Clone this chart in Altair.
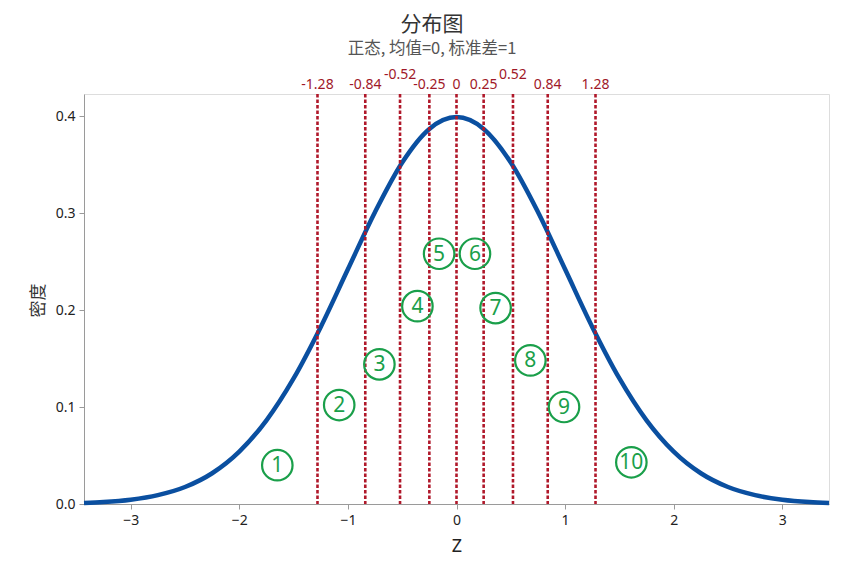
import altair as alt
import pandas as pd

# Titles
title_text = ["分布图"]
subtitle_text = ["正态, 均值=0, 标准差=1"]

# Curve samples (z, density)
z_curve = [-3.43, -3.25, -3.0, -2.75, -2.5, -2.25, -2.0, -1.75, -1.5, -1.25, -1.0, -0.75, -0.5, -0.25, 0.0,
           0.25, 0.5, 0.75, 1.0, 1.25, 1.5, 1.75, 2.0, 2.25, 2.5, 2.75, 3.0, 3.25, 3.43]
density = [0.0011, 0.0020, 0.0044, 0.0091, 0.0175, 0.0317, 0.0540, 0.0863, 0.1295, 0.1826, 0.2420, 0.3011, 0.3521, 0.3867, 0.3989,
           0.3867, 0.3521, 0.3011, 0.2420, 0.1826, 0.1295, 0.0863, 0.0540, 0.0317, 0.0175, 0.0091, 0.0044, 0.0020, 0.0011]

# Decile cut points
cuts = [-1.28, -0.84, -0.52, -0.25, 0.0, 0.25, 0.52, 0.84, 1.28]
cut_labels = ["-1.28", "-0.84", "-0.52", "-0.25", "0", "0.25", "0.52", "0.84", "1.28"]
cut_raised = [False, False, True, False, False, False, True, False, False]

# Circled decile numbers
num_labels = ["1", "2", "3", "4", "5", "6", "7", "8", "9", "10"]
num_z = [-1.65, -1.08, -0.71, -0.36, -0.16, 0.17, 0.36, 0.68, 0.99, 1.61]
num_y = [0.040, 0.102, 0.144, 0.204, 0.258, 0.258, 0.202, 0.148, 0.100, 0.043]

curve_df = pd.DataFrame({"z": z_curve, "d": density})
cut_df = pd.DataFrame({"z": cuts, "label": cut_labels, "raised": cut_raised})
num_df = pd.DataFrame({"z": num_z, "d": num_y, "label": num_labels})
title_df = pd.DataFrame({"t": title_text})
subtitle_df = pd.DataFrame({"t": subtitle_text})

W, H = 745, 410
LATIN = "Noto Sans"
CJK = "Noto Sans CJK SC"

xscale = alt.Scale(domain=[-3.43, 3.43], nice=False, zero=False)
yscale = alt.Scale(domain=[0, 0.4227], nice=False, zero=True)

xaxis = alt.Axis(values=[-3, -2, -1, 0, 1, 2, 3], format="d", title="Z", grid=False,
                 domainColor="#9a9a9a", tickColor="#9a9a9a", tickSize=5,
                 labelFont=LATIN, labelFontSize=14, labelColor="#222222", labelPadding=4,
                 titleFont=LATIN, titleFontSize=18, titleFontWeight="normal", titleColor="#222222",
                 titleY=42, titleBaseline="middle")
yaxis = alt.Axis(values=[0, 0.1, 0.2, 0.3, 0.4], format=".1f", title="密度", grid=False,
                 domainColor="#9a9a9a", tickColor="#9a9a9a", tickSize=5,
                 labelFont=LATIN, labelFontSize=14, labelColor="#222222", labelPadding=4,
                 titleFont=CJK, titleFontSize=17, titleFontWeight="normal", titleColor="#333333",
                 titleX=-46, titleY=206, titleAlign="center", titleBaseline="middle", titleAngle=-90)

curve = alt.Chart(curve_df).mark_line(color="#0a4fa0", strokeWidth=4.5, interpolate="monotone").encode(
    x=alt.X("z:Q", scale=xscale, axis=xaxis),
    y=alt.Y("d:Q", scale=yscale, axis=yaxis),
)

rules = alt.Chart(cut_df).mark_rule(color="#b0182a", strokeWidth=2.6, strokeDash=[3.5, 2]).encode(
    x=alt.X("z:Q", scale=xscale)
)

top_labels = alt.Chart(cut_df).transform_filter("!datum.raised").mark_text(
    color="#a01828", fontSize=14, font=LATIN, baseline="middle", align="center", clip=False
).encode(x=alt.X("z:Q", scale=xscale), y=alt.value(-9), text="label:N")

raised_labels = alt.Chart(cut_df).transform_filter("datum.raised").mark_text(
    color="#a01828", fontSize=14, font=LATIN, baseline="middle", align="center", clip=False
).encode(x=alt.X("z:Q", scale=xscale), y=alt.value(-19), text="label:N")

circles = alt.Chart(num_df).mark_point(shape="circle", size=930, filled=False, color="#1a9f4a",
                                        strokeWidth=2.2, opacity=1).encode(
    x=alt.X("z:Q", scale=xscale), y=alt.Y("d:Q", scale=yscale)
)
nums = alt.Chart(num_df).mark_text(color="#1a9f4a", fontSize=21, font=LATIN, baseline="middle",
                                   align="center", dy=1).encode(
    x=alt.X("z:Q", scale=xscale), y=alt.Y("d:Q", scale=yscale), text="label:N"
)

title_mark = alt.Chart(title_df).mark_text(color="#333333", fontSize=21, font=CJK, baseline="middle",
                                           align="center").encode(
    x=alt.value(348), y=alt.value(-69), text="t:N"
)
subtitle_mark = alt.Chart(subtitle_df).mark_text(color="#555555", fontSize=16.5, font=CJK, baseline="middle",
                                                 align="center").encode(
    x=alt.value(348), y=alt.value(-45), text="t:N"
)

chart = alt.layer(curve, rules, top_labels, raised_labels, circles, nums, title_mark, subtitle_mark).properties(
    width=W, height=H,
    autosize=alt.AutoSizeParams(type="none"),
    padding={"left": 76, "top": 86, "right": 29, "bottom": 60},
).configure_view(stroke="#9a9a9a", strokeWidth=1.2).configure(background="white")

chart.save("out.html", embed_options={"renderer": "svg", "actions": False})
